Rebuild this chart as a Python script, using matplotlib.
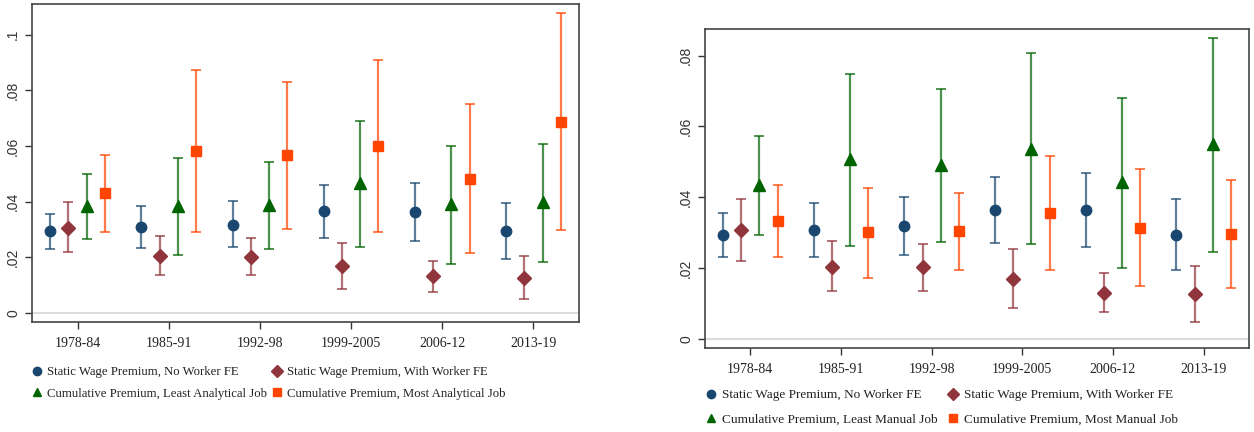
import numpy as np
import matplotlib
matplotlib.use('Agg')
import matplotlib.pyplot as plt
from matplotlib.lines import Line2D

# periods on the x axis
periods = ['1978-84', '1985-91', '1992-98', '1999-2005', '2006-12', '2013-19']

# left panel: analytical
a_static = [0.0295, 0.0308, 0.0317, 0.0365, 0.0363, 0.0295]
a_static_lo = [0.0231, 0.0232, 0.0237, 0.0271, 0.0259, 0.0194]
a_static_hi = [0.0357, 0.0384, 0.0401, 0.0460, 0.0467, 0.0396]
a_fe = [0.0307, 0.0204, 0.0201, 0.0170, 0.0132, 0.0127]
a_fe_lo = [0.0220, 0.0135, 0.0135, 0.0087, 0.0075, 0.0049]
a_fe_hi = [0.0398, 0.0277, 0.0269, 0.0252, 0.0187, 0.0205]
a_least = [0.0384, 0.0384, 0.0387, 0.0467, 0.0392, 0.0400]
a_least_lo = [0.0266, 0.0210, 0.0230, 0.0238, 0.0177, 0.0184]
a_least_hi = [0.0501, 0.0557, 0.0543, 0.0690, 0.0600, 0.0608]
a_most = [0.0430, 0.0581, 0.0567, 0.0600, 0.0483, 0.0687]
a_most_lo = [0.0291, 0.0290, 0.0303, 0.0292, 0.0214, 0.0299]
a_most_hi = [0.0569, 0.0872, 0.0831, 0.0908, 0.0752, 0.1077]

# right panel: manual
m_static = [0.0292, 0.0307, 0.0318, 0.0364, 0.0363, 0.0294]
m_static_lo = [0.0230, 0.0232, 0.0237, 0.0270, 0.0258, 0.0194]
m_static_hi = [0.0356, 0.0384, 0.0400, 0.0458, 0.0467, 0.0395]
m_fe = [0.0307, 0.0204, 0.0202, 0.0170, 0.0130, 0.0126]
m_fe_lo = [0.0220, 0.0134, 0.0136, 0.0088, 0.0075, 0.0048]
m_fe_hi = [0.0396, 0.0275, 0.0268, 0.0254, 0.0186, 0.0206]
m_least = [0.0435, 0.0507, 0.0490, 0.0537, 0.0443, 0.0550]
m_least_lo = [0.0294, 0.0263, 0.0273, 0.0269, 0.0201, 0.0246]
m_least_hi = [0.0574, 0.0749, 0.0705, 0.0806, 0.0681, 0.0849]
m_most = [0.0332, 0.0301, 0.0304, 0.0355, 0.0314, 0.0295]
m_most_lo = [0.0231, 0.0172, 0.0193, 0.0193, 0.0149, 0.0144]
m_most_hi = [0.0433, 0.0427, 0.0413, 0.0517, 0.0479, 0.0449]

# legend labels, in reading order
a_labels = ['Static Wage Premium, No Worker FE',
            'Static Wage Premium, With Worker FE',
            'Cumulative Premium, Least Analytical Job',
            'Cumulative Premium, Most Analytical Job']
m_labels = ['Static Wage Premium, No Worker FE',
            'Static Wage Premium, With Worker FE',
            'Cumulative Premium, Least Manual Job',
            'Cumulative Premium, Most Manual Job']

# Stata-like colours
NAVY = '#1a476f'
MAROON = '#90353b'
GREEN = '#006400'
ORANGE = '#ff4500'

SERIF = 'Liberation Serif'
SANS = 'Liberation Sans'


def draw_panel(ax, series, yticks, ylim):
    '''Draw one panel of point estimates with confidence bars.'''
    x = np.arange(1, len(periods) + 1)
    offsets = [-0.3, -0.1, 0.1, 0.3]
    ax.axhline(0, color='#dcdcdc', lw=1.5, zorder=0)
    for off, (est, lo, hi, col, mk, ms) in zip(offsets, series):
        est = np.array(est)
        err = [est - np.array(lo), np.array(hi) - est]
        ax.errorbar(x + off, est, yerr=err, fmt='none', ecolor=col,
                    alpha=0.7, elinewidth=1.6, capsize=3.5, capthick=1.4)
        ax.plot(x + off, est, ls='none', marker=mk, color=col, ms=ms,
                mec=col, zorder=3)
    ax.set_xlim(0.5, 6.5)
    ax.set_ylim(*ylim)
    ax.set_xticks(x)
    ax.set_xticklabels(periods, fontfamily=SERIF, fontsize=10,
                       color='#222222')
    ax.set_yticks(yticks)
    ax.set_yticklabels([('%g' % t).replace('0.', '.') if t else '0'
                        for t in yticks], rotation=90, va='center',
                       fontfamily=SANS, fontsize=10, color='#333333')
    ax.tick_params(axis='both', length=5, width=1, color='#333333')
    ax.tick_params(axis='x', pad=6)
    for sp in ax.spines.values():
        sp.set_color('#444444')
        sp.set_linewidth(1.2)


def add_legend(fig, labels, anchor, size, colspace, rowspace):
    handles = [
        Line2D([], [], ls='none', marker='o', color=NAVY, ms=6),
        Line2D([], [], ls='none', marker='D', color=MAROON, ms=6),
        Line2D([], [], ls='none', marker='^', color=GREEN, ms=6),
        Line2D([], [], ls='none', marker='s', color=ORANGE, ms=6),
    ]
    # legend fills column-wise, so reorder to read row-wise
    order = [0, 2, 1, 3]
    fig.legend([handles[i] for i in order], [labels[i] for i in order],
               loc='upper left', bbox_to_anchor=anchor, ncol=2,
               frameon=False, prop={'family': SERIF, 'size': size},
               handlelength=0.8, handletextpad=0.4, columnspacing=colspace,
               labelspacing=rowspace, borderpad=0, borderaxespad=0,
               labelcolor='#222222')


fig = plt.figure(figsize=(12.54, 4.32), dpi=100)
ax1 = fig.add_axes([32 / 1254, 1 - 322 / 432, 547 / 1254, 318 / 432])
ax2 = fig.add_axes([705 / 1254, 1 - 348 / 432, 544 / 1254, 319 / 432])

draw_panel(ax1, [
    (a_static, a_static_lo, a_static_hi, NAVY, 'o', 7.5),
    (a_fe, a_fe_lo, a_fe_hi, MAROON, 'D', 7),
    (a_least, a_least_lo, a_least_hi, GREEN, '^', 8),
    (a_most, a_most_lo, a_most_hi, ORANGE, 's', 7.5),
], [0, 0.02, 0.04, 0.06, 0.08, 0.1], (-0.0032, 0.111))

draw_panel(ax2, [
    (m_static, m_static_lo, m_static_hi, NAVY, 'o', 7.5),
    (m_fe, m_fe_lo, m_fe_hi, MAROON, 'D', 7),
    (m_least, m_least_lo, m_least_hi, GREEN, '^', 8),
    (m_most, m_most_lo, m_most_hi, ORANGE, 's', 7.5),
], [0, 0.02, 0.04, 0.06, 0.08], (-0.0026, 0.0875))

add_legend(fig, a_labels, (32 / 1254, 1 - 366 / 432), 9.2, 0.35, 0.75)
add_legend(fig, m_labels, (706 / 1254, 1 - 389 / 432), 9.5, 0.8, 0.9)

fig.savefig('out.png', dpi=100)
